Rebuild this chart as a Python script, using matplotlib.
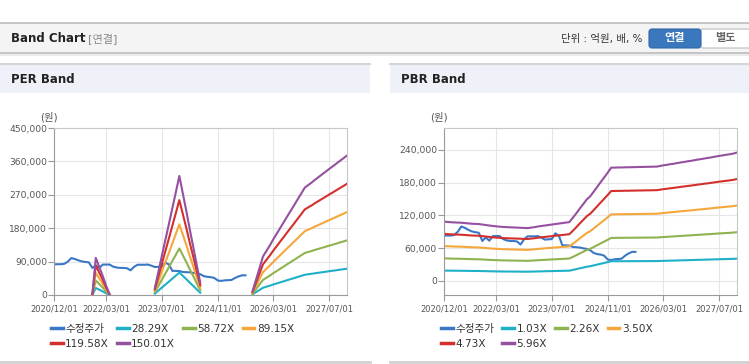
import numpy as np
import pandas as pd
import matplotlib
matplotlib.use('Agg')
import matplotlib.pyplot as plt
from matplotlib.patches import Rectangle, FancyBboxPatch
from matplotlib.ticker import FuncFormatter

plt.rcParams['font.family'] = ['DejaVu Sans', 'Noto Sans CJK KR']

nan = np.nan

# 월별 데이터, 2020/12 부터
price = [82600, 83000, 83000, 84000, 90000, 99500, 97000, 93500, 90500, 89000,
         88000, 73000, 79500, 73500, 82000, 82000, 82000, 76500, 74000, 73000,
         73000, 72000, 66500, 76000, 81500, 81500, 81500, 82000, 79000, 75500,
         76000, 76500, 87000, 82500, 65000, 65000, 64500, 62000, 61500, 61000,
         59500, 58500, 56000, 51000, 49000, 48000, 46000, 39000, 38000, 39500,
         40000, 40500, 46000, 50000, 53000, 53000]

# EPS (적자 구간은 nan)
eps = ([nan] * 11 +
       [5, 667, 500, 335, 170, 10] +
       [nan] * 12 +
       [127, 414, 700, 990, 1275, 1560, 1850, 2138, 1820, 1500, 1180, 860, 540, 220] +
       [nan] * 14 +
       [70, 275, 485, 692, 795, 898, 1001, 1104, 1207, 1310, 1413, 1516, 1619, 1722,
        1825, 1928, 1976, 2023, 2071, 2119, 2166, 2214, 2262, 2309, 2357, 2405, 2452, 2500])

# BPS
bps = [18200, 18100, 18000, 17950, 17900, 17850, 17750, 17650, 17550, 17500,
       17450, 17300, 17150, 17000, 16850, 16750, 16650, 16550, 16500, 16450,
       16400, 16350, 16300, 16250, 16200, 16350, 16500, 16700, 16850, 17000,
       17150, 17300, 17450, 17600, 17750, 17900, 18050,
       19400, 20800, 22200, 23600, 25000, 26000, 27400, 28900, 30400, 31800, 33300, 34800,
       34800, 34850, 34850, 34900, 34900, 34950, 34950, 35000, 35000, 35050, 35050, 35100, 35100,
       35300, 35500, 35650, 35850, 36000, 36200, 36400, 36550, 36750, 36900, 37100,
       37300, 37450, 37650, 37800, 38000, 38200, 38400, 38550, 38750, 38900, 39100, 39400]

per_labels = ['28.29X', '58.72X', '89.15X', '119.58X', '150.01X']
per_mult = [28.29, 58.72, 89.15, 119.58, 150.01]
pbr_labels = ['1.03X', '2.26X', '3.50X', '4.73X', '5.96X']
pbr_mult = [1.03, 2.26, 3.50, 4.73, 5.96]

per_yticks = [0, 90000, 180000, 270000, 360000, 450000]
pbr_yticks = [0, 60000, 120000, 180000, 240000]
tick_labels = ['2020/12/01', '2022/03/01', '2023/07/01', '2024/11/01', '2026/03/01', '2027/07/01']

colors = ['#3a78c6', '#1fb0c8', '#8fb34f', '#f5a73c', '#d3302d', '#9650a0']

dates = pd.date_range('2020-12-01', periods=len(bps), freq='MS')
tick_pos = pd.to_datetime(tick_labels, format='%Y/%m/%d')

W, H = 749, 364
fig = plt.figure(figsize=(W / 100, H / 100), dpi=100)
fig.patch.set_facecolor('white')

# 배경용 축 (픽셀 좌표)
bg = fig.add_axes([0, 0, 1, 1])
bg.set_xlim(0, W)
bg.set_ylim(H, 0)
bg.axis('off')

# 상단 헤더
bg.add_patch(Rectangle((0, 22), W, 31, fc='#f4f4f4', ec='none'))
bg.plot([0, W], [22.5, 22.5], color='#bdbdbd', lw=1.2)
bg.plot([0, W], [53, 53], color='#c4c4c4', lw=1.4)
bg.plot([0, W], [54.5, 54.5], color='#e8e8e8', lw=1.2)
bg.text(11, 38.5, 'Band Chart', fontsize=8.5, fontweight='bold', color='#222', va='center')
bg.text(88, 38.5, '[연결]', fontsize=8, color='#888', va='center')
bg.text(642, 39, '단위 : 억원, 배, %', fontsize=7.5, color='#333', va='center', ha='right')
bg.add_patch(FancyBboxPatch((700, 29), 55, 19, boxstyle='round,pad=0,rounding_size=3',
                            fc='white', ec='#bdbdbd', lw=0.8))
bg.add_patch(FancyBboxPatch((649, 29), 52, 19, boxstyle='round,pad=0,rounding_size=3',
                            fc='#3a77bd', ec='#2f66a8', lw=0.8))
bg.text(675, 38.5, '연결', fontsize=8, fontweight='bold', color='white', va='center', ha='center')
bg.text(725, 38.5, '별도', fontsize=8, fontweight='bold', color='#666', va='center', ha='center')

# 패널 헤더
for x0, x1, title in [(0, 370, 'PER Band'), (390, W, 'PBR Band')]:
    bg.add_patch(Rectangle((x0, 64), x1 - x0, 29, fc='#eef2f8', ec='none'))
    bg.plot([x0, x1], [64, 64], color='#d5d5d5', lw=1.5)
    bg.plot([x0, x1], [362, 362], color='#d0d0d0', lw=2)
    bg.text(x0 + 11, 79.5, title, fontsize=8.5, fontweight='bold', color='#222', va='center')
    bg.text(x0 + 49, 117, '(원)', fontsize=7.5, color='#555', va='center', ha='center')


def make_axes(x0, y0, x1, y1):
    return fig.add_axes([x0 / W, 1 - y1 / H, (x1 - x0) / W, (y1 - y0) / H])


def draw_panel(ax, base, mults, labels, yticks, ylim, legend_x):
    lines = []
    l, = ax.plot(dates[:len(price)], price, color=colors[0], lw=1.5, label='수정주가')
    lines.append(l)
    base = np.array(base, dtype=float)
    for m, c, lab in zip(mults, colors[1:], labels):
        l, = ax.plot(dates, base * m, color=c, lw=1.5, label=lab)
        lines.append(l)
    ax.set_xlim(dates[0], pd.Timestamp('2027-12-05'))
    ax.set_ylim(*ylim)
    ax.set_yticks(yticks)
    ax.yaxis.set_major_formatter(FuncFormatter(lambda v, p: f'{int(v):,}'))
    ax.set_xticks(tick_pos)
    ax.set_xticklabels(tick_labels)
    ax.grid(True, color='#e6e6e6', lw=0.8)
    ax.set_axisbelow(True)
    for s in ['top', 'right']:
        ax.spines[s].set_color('#c8c8c8')
    for s in ['left', 'bottom']:
        ax.spines[s].set_color('#9a9a9a')
    ax.tick_params(axis='y', labelsize=6.6, colors='#999', labelcolor='#555', length=4, pad=1)
    ax.tick_params(axis='x', labelsize=6.0, colors='#999', labelcolor='#555', length=4, pad=3)
    # 행 순서로 보이도록 재배열
    order = [0, 4, 1, 5, 2, 3]
    leg = ax.legend([lines[i] for i in order], [lines[i].get_label() for i in order],
                    loc='upper left', bbox_to_anchor=(legend_x / W, 1 - 324 / H),
                    bbox_transform=fig.transFigure, frameon=False, ncol=4,
                    fontsize=7.6, handlelength=1.1, handletextpad=0.25,
                    columnspacing=0.75, labelspacing=0.45, borderpad=0, borderaxespad=0)
    for t in leg.get_texts():
        t.set_color('#333')
    for h in leg.get_lines():
        h.set_linewidth(2.5)


ax1 = make_axes(54, 128, 347, 295)
draw_panel(ax1, eps, per_mult, per_labels, per_yticks, (0, 450000), 51)

ax2 = make_axes(444, 128, 737, 295)
draw_panel(ax2, bps, pbr_mult, pbr_labels, pbr_yticks, (-26000, 280000), 441)

fig.savefig('out.png', dpi=100)
